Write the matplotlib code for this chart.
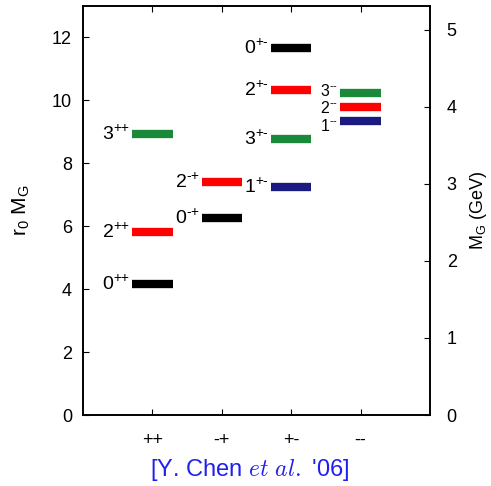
import numpy as np
import matplotlib.pyplot as plt

plt.rcParams['font.family'] = ['Liberation Sans', 'DejaVu Sans']
plt.rcParams['mathtext.fontset'] = 'custom'
plt.rcParams['mathtext.rm'] = 'Liberation Sans'
plt.rcParams['mathtext.it'] = 'Liberation Sans:italic'

# -----------------------------------------------------------------------------

groups = ['++', '-+', '+-', '--']

# (group index, J, r0*M_G, colour)
states_group = [1, 1, 1, 2, 2, 3, 3, 3, 3, 4, 4, 4]
states_j = ['0', '2', '3', '0', '2', '0', '2', '3', '1', '3', '2', '1']
states_mass = [4.16, 5.83, 8.92, 6.25, 7.42, 11.66, 10.33, 8.78, 7.26,
               10.25, 9.78, 9.35]
states_color = ['black', 'red', 'green', 'black', 'red', 'black', 'red',
                'green', 'navy', 'green', 'red', 'navy']

colors = {'black': '#000000', 'red': '#ff0000',
          'green': '#1a8a3a', 'navy': '#1a1a80'}

r0_per_gev = 2.45

# -----------------------------------------------------------------------------

fig = plt.figure(figsize=(4.91, 4.86), dpi=100)
ax = fig.add_axes([83 / 491, 1 - 415 / 486, 347 / 491, 409 / 486])

half = 0.29
# small vertical nudges for the packed -- labels
nudge = {'3': 0.05, '2': -0.02, '1': -0.17}
for g, j, m, c in zip(states_group, states_j, states_mass, states_color):
    ax.hlines(m, g - half, g + half, color=colors[c], linewidth=6)
    label = r'$%s^{\text{%s}}$' % (j, groups[g - 1])
    if g == 4:
        ax.text(g - half - 0.04, m + nudge[j], label,
                ha='right', va='center', fontsize=11.5)
    else:
        ax.text(g - half - 0.03, m, label,
                ha='right', va='center', fontsize=14)

ax.set_xlim(0, 5)
ax.set_ylim(0, 13)
ax.set_xticks([1, 2, 3, 4])
ax.set_xticklabels(groups)
ax.set_yticks(np.arange(0, 13, 2))
ax.tick_params(direction='in', labelsize=13, length=4, top=True)
ax.tick_params(axis='x', pad=12, labelsize=13)
ax.tick_params(axis='y', pad=8)
ax.set_ylabel(r'r$_0$ M$_\mathrm{G}$', fontsize=15, labelpad=14)

ax2 = ax.twinx()
ax2.set_ylim(0, 13 / r0_per_gev)
ax2.set_yticks(np.arange(0, 6, 1))
ax2.tick_params(direction='in', labelsize=13, length=4, pad=12)
ax2.set_ylabel(r'M$_\mathrm{G}$ (GeV)', fontsize=13, labelpad=8)

for a in (ax, ax2):
    for s in a.spines.values():
        s.set_linewidth(1.2)

fig.text(250 / 491, 1 - 470 / 486, r"[Y. Chen $et\ al.$ '06]",
         color='#2020ee', fontsize=17, ha='center', va='center',
         math_fontfamily='cm')

fig.savefig('out.png', dpi=100)
